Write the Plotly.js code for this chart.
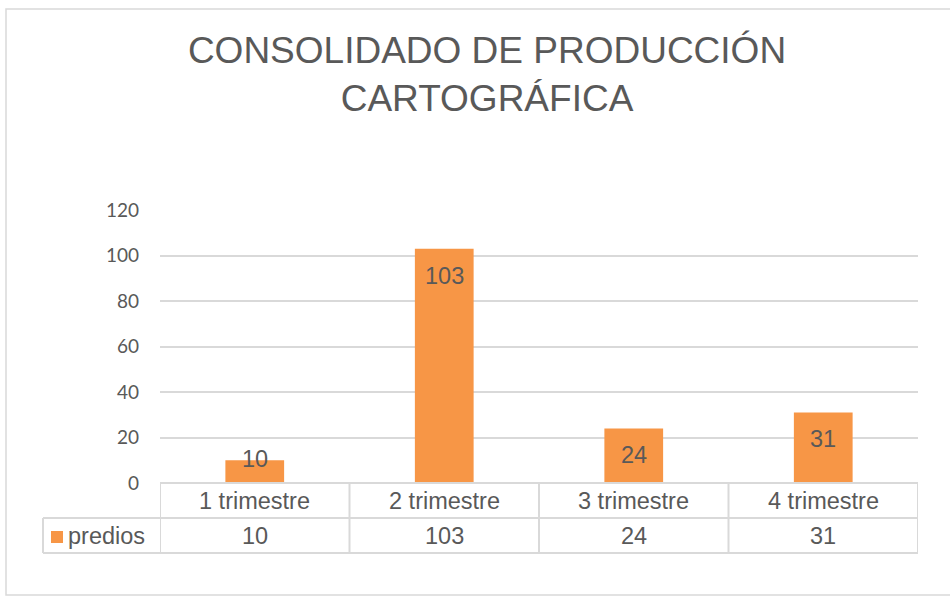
<!DOCTYPE html>
<html>
<head>
<meta charset="utf-8">
<script src="https://cdn.plot.ly/plotly-3.0.1.min.js"></script>
<style>html,body{margin:0;padding:0;background:#fff;}</style>
</head>
<body>
<div id="chart" style="width:950px;height:596px;"></div>
<script>
// ---- data ----
var categories = ["1 trimestre", "2 trimestre", "3 trimestre", "4 trimestre"];
var seriesName = "predios";
var values = [10, 103, 24, 31];
var yTicks = [0, 20, 40, 60, 80, 100, 120];
var chartTitle = "CONSOLIDADO DE PRODUCCIÓN<br>CARTOGRÁFICA";

// ---- layout geometry ----
var W = 950, H = 596;
var M = {l: 160, r: 32, t: 210, b: 113};
var PW = W - M.l - M.r, PH = H - M.t - M.b;
function px(x) { return (x - M.l) / PW; }          // pixel x -> paper
function py(y) { return (H - M.b - y) / PH; }      // pixel y -> paper
var barColor = "#F79646";
var lineColor = "#d9d9d9";
var textColor = "#595959";
var yMax = 120;

var rowTop = H - M.b, rowMid = rowTop + 35, rowBot = rowTop + 70;

var shapes = [];
var annotations = [];
// outer chart border
shapes.push({type: "rect", xref: "paper", yref: "paper", x0: px(6), x1: px(970), y0: py(595), y1: py(9),
  line: {color: lineColor, width: 1.5}, fillcolor: "rgba(0,0,0,0)", layer: "below"});
// table horizontal lines
shapes.push({type: "line", xref: "paper", yref: "paper", x0: 0, x1: 1, y0: py(rowTop), y1: py(rowTop), line: {color: lineColor, width: 2}});
shapes.push({type: "line", xref: "paper", yref: "paper", x0: px(43), x1: 1, y0: py(rowMid), y1: py(rowMid), line: {color: lineColor, width: 2}});
shapes.push({type: "line", xref: "paper", yref: "paper", x0: px(43), x1: 1, y0: py(rowBot), y1: py(rowBot), line: {color: lineColor, width: 2}});
// legend cell left edge
shapes.push({type: "line", xref: "paper", yref: "paper", x0: px(43), x1: px(43), y0: py(rowMid), y1: py(rowBot), line: {color: lineColor, width: 2}});
// column separators
for (var i = 0; i <= categories.length; i++) {
  shapes.push({type: "line", xref: "x", yref: "paper", x0: i - 0.5, x1: i - 0.5, y0: py(rowTop), y1: py(rowBot), line: {color: lineColor, width: 2}});
}
// legend marker
shapes.push({type: "rect", xref: "paper", yref: "paper", x0: px(51), x1: px(63), y0: py(543), y1: py(531),
  line: {width: 0}, fillcolor: barColor});

var tableFont = {family: "Liberation Sans, Arial, sans-serif", size: 23.5, color: textColor};
annotations.push({xref: "paper", yref: "paper", x: px(66), y: py((rowMid + rowBot) / 2), xanchor: "left", yanchor: "middle",
  text: seriesName, showarrow: false, font: tableFont});
for (var j = 0; j < categories.length; j++) {
  annotations.push({xref: "x", yref: "paper", x: categories[j], y: py((rowTop + rowMid) / 2), xanchor: "center", yanchor: "middle",
    text: categories[j], showarrow: false, font: tableFont});
  annotations.push({xref: "x", yref: "paper", x: categories[j], y: py((rowMid + rowBot) / 2), xanchor: "center", yanchor: "middle",
    text: String(values[j]), showarrow: false, font: tableFont});
  // data labels (inside end)
  var hpx = values[j] / yMax * PH;
  if (hpx >= 50) {
    annotations.push({xref: "x", yref: "y", x: categories[j], y: values[j], xanchor: "center", yanchor: "top", yshift: -12,
      text: String(values[j]), showarrow: false, font: tableFont});
  } else {
    annotations.push({xref: "x", yref: "y", x: categories[j], y: values[j], xanchor: "center", yanchor: "middle", yshift: 1,
      text: String(values[j]), showarrow: false, font: tableFont});
  }
}

var data = [{
  type: "bar",
  x: categories,
  y: values,
  name: seriesName,
  marker: {color: barColor, line: {width: 0}},
  hoverinfo: "x+y"
}];

var layout = {
  width: W, height: H,
  margin: M,
  paper_bgcolor: "#fff",
  plot_bgcolor: "#fff",
  showlegend: false,
  bargap: 0.69,
  title: {
    text: chartTitle,
    font: {family: "Liberation Sans, Arial, sans-serif", size: 37, color: textColor},
    xref: "container", x: 487 / W, xanchor: "center",
    yref: "container", y: 1 - 63 / H, yanchor: "top"
  },
  xaxis: {
    type: "category",
    showticklabels: false,
    showgrid: false,
    zeroline: false,
    showline: false,
    ticks: "",
    range: [-0.5, categories.length - 0.5]
  },
  yaxis: {
    range: [0, yMax],
    tickvals: yTicks,
    ticktext: yTicks.map(String),
    showgrid: true,
    gridcolor: lineColor,
    gridwidth: 2,
    zeroline: false,
    showline: false,
    ticks: "",
    ticklabelstandoff: 20,
    tickfont: {family: "Lato, Carlito, Calibri, sans-serif", size: 19, color: textColor}
  },
  shapes: shapes,
  annotations: annotations
};

Plotly.newPlot("chart", data, layout, {displayModeBar: false, staticPlot: true});
</script>
</body>
</html>
